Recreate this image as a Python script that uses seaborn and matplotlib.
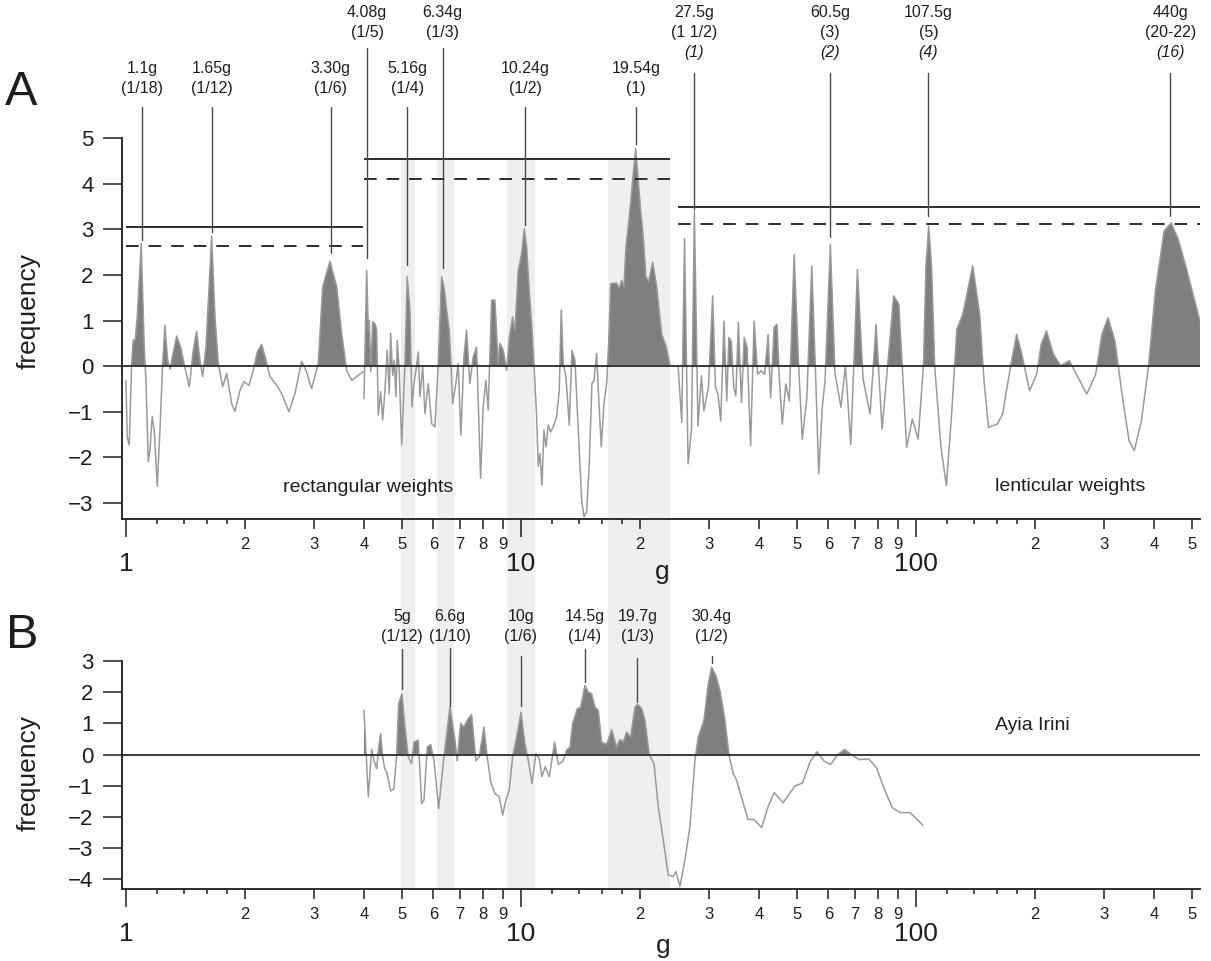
import numpy as np
import matplotlib
matplotlib.use("Agg")
import matplotlib.pyplot as plt
import matplotlib.transforms as mtransforms
from matplotlib.patches import Rectangle
import seaborn as sns

# ---- panel A: rectangular weights, first block (g, frequency)
seg1_g = [1.0, 1.0076, 1.0194, 1.0338, 1.0435, 1.0557, 1.0681, 1.0933, 1.1125, 1.1237,
          1.1388, 1.1502, 1.1657, 1.1794, 1.2002, 1.2193, 1.2386, 1.2554, 1.2753, 1.2948,
          1.3100, 1.3440, 1.3757, 1.4024, 1.4465, 1.4806, 1.5102, 1.5395, 1.5640, 1.5944,
          1.6483, 1.6803, 1.7130, 1.7575, 1.7989, 1.8521, 1.8881, 1.9440, 1.9899, 2.0487,
          2.1008, 2.1503, 2.2061, 2.2620, 2.3153, 2.4075, 2.4787, 2.5864, 2.6784, 2.7851,
          2.8559, 2.9524, 3.0683, 3.1481, 3.2849, 3.4158, 3.5168, 3.6209, 3.7280, 3.8743,
          3.9889]
seg1_f = [-0.31, -1.55, -1.73, 0.06, 0.57, 0.58, 1.08, 2.69, 0.42, -0.31,
          -2.09, -1.84, -1.11, -1.40, -2.63, -1.40, 0.06, 0.90, 0.13, -0.07,
          0.20, 0.66, 0.42, 0.06, -0.45, 0.35, 0.77, 0.13, -0.23, 0.42,
          2.85, 1.08, 0.06, -0.45, -0.16, -0.82, -0.99, -0.53, -0.34, -0.42,
          -0.09, 0.31, 0.48, 0.13, -0.23, -0.42, -0.60, -1.00, -0.60, 0.11,
          -0.09, -0.49, 0.06, 1.74, 2.30, 1.74, 0.72, -0.09, -0.31, -0.20,
          -0.12]

# ---- panel A: rectangular weights, second block
seg2_g = [4.005, 4.069, 4.107, 4.131, 4.165, 4.214, 4.270, 4.313, 4.353, 4.414,
          4.466, 4.526, 4.587, 4.641, 4.679, 4.734, 4.778, 4.826, 4.862, 4.919,
          4.989, 5.086, 5.154, 5.236, 5.298, 5.360, 5.423, 5.496, 5.550, 5.639,
          5.715, 5.825, 5.942, 6.057, 6.175, 6.298, 6.394, 6.485, 6.584, 6.649,
          6.715, 6.843, 6.935, 7.045, 7.170, 7.284, 7.425, 7.570, 7.721, 7.904,
          8.024, 8.152, 8.262, 8.428, 8.591, 8.759,
          8.846, 9.018, 9.199, 9.339, 9.526, 9.655, 9.843, 10.041, 10.194, 10.337,
          10.495, 10.643, 10.787, 10.958, 11.061, 11.171, 11.302, 11.435, 11.569, 11.725,
          11.890, 12.072, 12.314, 12.502, 12.648, 12.797, 12.999, 13.252, 13.462, 13.700,
          13.966, 14.246, 14.438, 14.667, 14.891, 15.127, 15.304, 15.547, 15.729, 15.970,
          16.223, 16.481, 16.674, 16.870, 17.470, 17.737, 17.986, 18.229, 18.442, 18.877,
          19.244, 19.515, 19.813, 20.092, 20.399, 20.723, 21.052, 21.549, 22.057, 22.710,
          23.286, 23.835]
seg2_f = [-0.71, 2.10, 0.79, 1.00, -0.12, 0.97, 0.93, 0.79, -1.07, -0.56,
          -1.18, -0.53, 0.35, -0.60, 0.72, -0.20, 0.13, -0.67, 0.57, -0.09,
          -1.73, 0.06, 1.96, 1.23, -0.89, -0.38, -0.09, 0.31, -0.67, -0.01,
          -1.04, -0.38, -1.26, -1.33, 0.06, 1.96, 1.70, 1.23, 0.79, 0.06,
          -0.82, -0.38, 0.06, -1.51, 0.20, 0.79, -0.38, 0.20, 0.42, -2.46,
          -0.89, -0.31, -0.96, 1.45, 1.45, 0.06,
          0.50, 0.35, -0.09, 0.61, 1.08, 0.79, 2.10, 2.47, 3.01, 2.61,
          1.66, 0.93, 0.06, -1.11, -2.20, -1.91, -2.61, -1.40, -1.77, -1.29,
          -1.44, -1.33, -1.11, -0.53, 1.23, 0.06, -0.23, -1.29, 0.35, 0.13,
          -1.40, -2.93, -3.30, -3.19, -2.13, -0.38, -0.31, 0.28, -0.67, -1.77,
          -0.82, -0.38, 0.50, 1.81, 1.82, 1.70, 1.88, 1.74, 2.61, 3.42,
          4.22, 4.77, 4.07, 3.42, 2.83, 1.96, 1.85, 2.28, 1.75, 0.70,
          0.45, 0.02]

# ---- panel A: lenticular weights
lent_g = [25.01, 25.53, 25.95, 26.49, 27.03, 27.48, 28.06, 28.64, 29.04, 29.83,
          30.57, 31.08, 31.53, 32.05, 32.65, 33.19, 33.60, 34.07, 34.57, 34.99,
          35.51, 36.16, 36.75, 37.36, 38.14, 38.93, 39.73, 40.55, 41.39, 42.24,
          42.86, 43.75, 44.47, 45.13, 45.87, 46.82, 47.78, 49.16, 50.50, 51.54,
          52.94, 54.47, 55.60, 56.74, 57.91, 58.87, 60.71, 62.36, 64.58, 66.30,
          68.38, 71.10, 73.46, 76.52, 79.24, 82.06, 84.79, 87.80, 90.50, 94.71,
          97.89, 101.3, 104.5, 106.0, 107.7, 109.5, 111.6, 115.7, 119.4, 123.1,
          126.9, 131.4, 139.2, 145.0, 148.7, 152.6, 160.6, 165.7, 173.7, 179.8,
          185.4, 193.9, 202.1, 207.5, 214.0, 222.9, 232.3, 244.4, 257.3, 270.8,
          285.0, 295.7, 306.3, 319.0, 332.3, 346.3, 357.0, 372.1, 387.6, 403.7,
          424.9, 442.6, 461.3, 485.4, 523.6]
lent_f = [-0.03, -1.23, 2.80, -2.14, -1.38, 3.40, -1.31, -0.21, -0.98, -0.47,
          1.54, -0.47, -0.61, -1.20, 0.99, -0.76, 0.63, 0.55, -0.47, -0.65,
          0.96, -0.80, 0.63, 0.41, -1.74, 0.99, -0.18, -0.10, -0.18, 0.69,
          -0.69, 0.85, 0.92, -0.32, -1.27, -0.39, -0.76, 2.44, -0.03, -1.60,
          -0.69, 2.20, 0.04, -2.36, -0.90, -0.32, 2.67, -0.14, -0.90, 0.01,
          -1.71, 2.12, -0.28, -1.05, 0.92, -1.38, 0.01, 1.54, 1.36, -1.78,
          -1.16, -1.60, 0.04, 2.20, 3.07, 2.20, -0.03, -1.78, -2.62, -1.05,
          0.81, 1.14, 2.20, 1.14, -0.32, -1.34, -1.27, -1.05, 0.01, 0.70,
          0.26, -0.54, -0.18, 0.48, 0.77, 0.26, 0.01, 0.12, -0.25, -0.61,
          -0.18, 0.70, 1.06, 0.55, -0.61, -1.63, -1.85, -1.20, -0.03, 1.65,
          2.96, 3.14, 2.78, 2.09, 0.99]

# ---- panel B: Ayia Irini
ayia_g = [4.005, 4.107, 4.188, 4.245, 4.313, 4.363, 4.414, 4.466, 4.518, 4.571,
          4.679, 4.770, 4.846, 4.902, 4.997, 5.086, 5.184, 5.288, 5.360, 5.496,
          5.606, 5.682, 5.792, 5.908, 6.023, 6.190, 6.384, 6.611, 6.806, 6.898,
          7.036, 7.170, 7.310, 7.500, 7.690, 7.840, 8.058, 8.214, 8.379, 8.591,
          8.810, 8.987, 9.162, 9.339, 9.526, 9.752, 10.00, 10.236, 10.435, 10.662,
          10.914, 11.126, 11.302, 11.522, 11.794, 12.171, 12.429, 12.753, 13.052, 13.306,
          13.517, 13.885, 14.163, 14.522, 14.804, 15.100, 15.394, 15.692, 16.007, 16.481,
          16.969, 17.470, 17.809, 18.155, 18.518, 18.955, 19.436, 19.745, 20.209, 20.602,
          21.126, 21.713, 22.265, 22.923, 23.600, 24.297, 24.683, 25.264, 26.011, 26.780,
          27.574, 28.110, 29.060, 29.796, 30.393, 31.168, 31.900, 32.845, 33.678, 34.472,
          35.095, 36.302, 37.572, 38.864, 40.672, 42.293, 43.748, 46.115, 49.363, 51.630,
          54.027, 56.179, 58.527, 60.815, 63.350, 65.995, 69.062, 71.805, 75.986, 79.519,
          83.219, 87.096, 91.138, 96.446, 100.9, 104.0]
ayia_f = [1.42, -1.35, 0.17, -0.18, -0.45, 0.24, 0.67, -0.07, -0.45, -0.55,
          -1.17, -1.09, 0.0, 1.63, 1.95, 0.88, -0.07, -0.29, 0.40, 0.46,
          -1.57, -1.46, 0.24, 0.32, -0.18, -1.73, -0.07, 1.54, 0.46, -0.20,
          1.01, 0.88, 1.10, 1.29, -0.20, -0.07, 0.88, -0.07, -0.87, -1.25,
          -1.35, -1.94, -1.46, -1.14, -0.07, 0.56, 1.36, 0.35, -0.18, -0.93,
          0.03, -0.13, -0.71, -0.39, -0.71, 0.40, -0.31, -0.23, 0.14, 0.24,
          0.99, 1.47, 1.52, 2.22, 2.00, 1.95, 1.52, 1.42, 0.40, 0.33,
          0.80, 0.24, 0.48, 0.40, 0.72, 0.56, 1.52, 1.61, 1.47, 1.10,
          0.0, -0.29, -1.67, -2.74, -3.86, -3.91, -3.75, -4.23, -3.38, -2.31,
          -0.18, 0.56, 1.10, 2.27, 2.80, 2.53, 2.06, 1.10, -0.07, -0.61,
          -0.80, -1.44, -2.08, -2.08, -2.34, -1.65, -1.22, -1.54, -1.01, -0.91,
          -0.21, 0.09, -0.21, -0.32, 0.0, 0.16, -0.03, -0.16, -0.14, -0.43,
          -1.12, -1.70, -1.86, -1.86, -2.08, -2.27]

# significance levels per block (solid / dashed)
level_span = [(1.0, 3.98), (4.005, 23.84), (25.0, 523.6)]
level_solid = [3.04, 4.55, 3.48]
level_dash = [2.63, 4.11, 3.11]

# shaded ranges shared by both panels
bands = [(4.969, 5.382), (6.128, 6.755), (9.216, 10.85), (16.61, 23.84)]

# peak annotations, panel A
ann_a_g = [1.1, 1.65, 3.30, 4.08, 5.16, 6.34, 10.24, 19.54, 27.5, 60.5, 107.5, 440]
ann_a_text = [["1.1g", "(1/18)"], ["1.65g", "(1/12)"], ["3.30g", "(1/6)"],
              ["4.08g", "(1/5)"], ["5.16g", "(1/4)"], ["6.34g", "(1/3)"],
              ["10.24g", "(1/2)"], ["19.54g", "(1)"], ["27.5g", "(1 1/2)"],
              ["60.5g", "(3)"], ["107.5g", "(5)"], ["440g", "(20-22)"]]
ann_a_italic = [None, None, None, None, None, None, None, None, "(1)", "(2)", "(4)", "(16)"]
ann_a_high = [False, False, False, True, False, True, False, False, True, True, True, True]
ann_a_stem = [2.76, 2.94, 2.47, 2.36, 2.21, 2.16, 3.09, 4.87, 3.45, 2.83, 3.30, 3.30]

# peak annotations, panel B
ann_b_g = [5, 6.6, 10, 14.5, 19.7, 30.4]
ann_b_text = [["5g", "(1/12)"], ["6.6g", "(1/10)"], ["10g", "(1/6)"],
              ["14.5g", "(1/4)"], ["19.7g", "(1/3)"], ["30.4g", "(1/2)"]]
ann_b_top = [3.39, 3.42, 3.16, 3.39, 3.11, 3.16]
ann_b_stem = [2.11, 1.57, 1.57, 2.32, 1.67, 2.95]

labeled_minor = [2, 3, 4, 5, 6, 7, 8, 9, 20, 30, 40, 50, 60, 70, 80, 90, 200, 300, 400, 500]
labeled_minor_txt = ["2", "3", "4", "5", "6", "7", "8", "9"] * 2 + ["2", "3", "4", "5"]
short_minor = [1.2, 1.4, 1.6, 1.8, 12, 14, 16, 18, 120, 140, 160, 180]

FILL = "#7f7f7f"
LINE = "#9a9a9a"
INK = "#1e1e1e"

sns.set_theme(style="ticks")
plt.rcParams["font.family"] = ["Liberation Sans", "DejaVu Sans"]
plt.rcParams["axes.unicode_minus"] = True

fig = plt.figure(figsize=(12.11, 9.61), dpi=100)
ax_a = fig.add_axes([0.1007, 0.4599, 0.8902, 0.3965])
ax_b = fig.add_axes([0.1007, 0.0749, 0.8902, 0.2373])


def draw_curve(ax, g, f):
    g = np.asarray(g)
    f = np.asarray(f)
    ax.fill_between(g, f, 0, where=f > 0, interpolate=True, color=FILL, lw=0, zorder=2)
    sns.lineplot(x=g, y=f, ax=ax, color=LINE, linewidth=1.1, estimator=None, sort=False, zorder=3)


def style_axis(ax, ylim, yticks, ax_px_height):
    ax.set_xscale("log")
    ax.set_xlim(0.977, 523.6)
    ax.set_ylim(*ylim)
    ax.set_facecolor("none")
    ax.set_yticks(yticks)
    ax.set_yticklabels([str(t).replace("-", "\u2212") for t in yticks])
    ax.set_xticks([1, 10, 100], ["1", "10", "100"])
    ax.set_xticks(labeled_minor, labeled_minor_txt, minor=True)
    ax.tick_params(axis="x", which="major", length=13, width=1.1, pad=11,
                   labelsize=19, color=INK, labelcolor=INK)
    ax.tick_params(axis="x", which="minor", length=7, width=1.1, pad=6,
                   labelsize=12, color=INK, labelcolor=INK)
    ax.tick_params(axis="y", length=13.5, width=1.1, pad=7, labelsize=16,
                   color=INK, labelcolor=INK)
    ax.vlines(short_minor, 0, -5.0 / ax_px_height, transform=ax.get_xaxis_transform(),
              color=INK, lw=1.1, clip_on=False)
    sns.despine(ax=ax)
    for side in ("left", "bottom"):
        ax.spines[side].set_linewidth(1.3)
        ax.spines[side].set_color(INK)
    ax.axhline(0, color="#2a2a2a", lw=1.3, zorder=4)
    ax.set_xlabel("")


# shaded bands spanning both panels
band_tf = mtransforms.blended_transform_factory(ax_a.transData, fig.transFigure)
for lo, hi in bands:
    fig.add_artist(Rectangle((lo, 0.0749), hi - lo, 0.8356 - 0.0749, transform=band_tf,
                             facecolor="#efefef", edgecolor="none", zorder=-1))

# ---- panel A
draw_curve(ax_a, seg1_g, seg1_f)
draw_curve(ax_a, seg2_g, seg2_f)
draw_curve(ax_a, lent_g, lent_f)
style_axis(ax_a, (-3.35, 5.0), [-3, -2, -1, 0, 1, 2, 3, 4, 5], 381)

for (lo, hi), s, d in zip(level_span, level_solid, level_dash):
    ax_a.hlines(s, lo, hi, color=INK, lw=1.3, zorder=4)
    ax_a.hlines(d, lo, hi, color=INK, lw=1.3, linestyles=(0, (7, 5.5)), zorder=4)

for g, txt, ital, high, stem in zip(ann_a_g, ann_a_text, ann_a_italic, ann_a_high, ann_a_stem):
    if high:
        ys = [7.75, 7.31, 6.87]
        top = 6.43 if ital else 6.98
    else:
        ys = [6.52, 6.08]
        top = 5.67
    ax_a.plot([g, g], [stem, top], color="#4a4a4a", lw=1.0, clip_on=False, zorder=5)
    for line, y in zip(txt, ys):
        ax_a.text(g, y, line, ha="center", va="center", fontsize=11.5, color=INK, clip_on=False)
    if ital:
        ax_a.text(g, ys[2], ital, ha="center", va="center", fontsize=11.5, color=INK,
                  style="italic", clip_on=False)

ax_a.text(4.10, -2.65, "rectangular weights", ha="center", va="center", fontsize=14, color=INK)
ax_a.text(246, -2.64, "lenticular weights", ha="center", va="center", fontsize=14, color=INK)
ax_a.set_ylabel("frequency", fontsize=19, color=INK, va="center")
ax_a.yaxis.set_label_coords(-0.0863, 0.546)

# ---- panel B
draw_curve(ax_b, ayia_g, ayia_f)
style_axis(ax_b, (-4.31, 3.0), [-4, -3, -2, -1, 0, 1, 2, 3], 228)

for g, txt, top, stem in zip(ann_b_g, ann_b_text, ann_b_top, ann_b_stem):
    ax_b.plot([g, g], [stem, top], color="#4a4a4a", lw=1.0, clip_on=False, zorder=5)
    for line, y in zip(txt, [4.44, 3.80]):
        ax_b.text(g, y, line, ha="center", va="center", fontsize=11.5, color=INK, clip_on=False)

ax_b.text(197.3, 0.93, "Ayia Irini", ha="center", va="center", fontsize=14, color=INK)
ax_b.set_ylabel("frequency", fontsize=19, color=INK, va="center")
ax_b.yaxis.set_label_coords(-0.0863, 0.509)

# panel letters and unit labels
fig.text(0.0178, 0.9037, "A", fontsize=35, ha="center", va="center", color=INK)
fig.text(0.0186, 0.3387, "B", fontsize=35, ha="center", va="center", color=INK)
fig.text(0.5467, 0.4050, "g", fontsize=19, ha="center", va="center", color=INK)
fig.text(0.5475, 0.0160, "g", fontsize=19, ha="center", va="center", color=INK)

fig.savefig("out.png", dpi=100, facecolor="white")
